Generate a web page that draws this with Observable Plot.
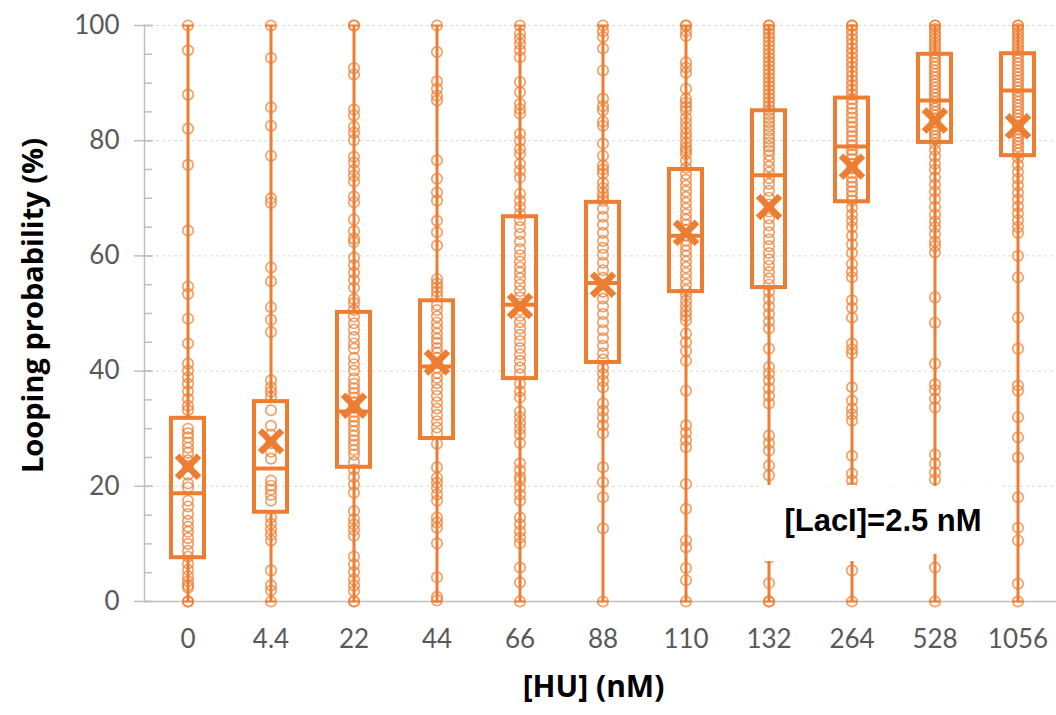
<!DOCTYPE html>
<html>
<head>
<meta charset="utf-8">
<script src="https://cdn.jsdelivr.net/npm/d3@7"></script>
<script src="https://cdn.jsdelivr.net/npm/@observablehq/plot@0.6"></script>
<style>
  html, body { margin: 0; padding: 0; background: #ffffff; }
  #chart { width: 1056px; height: 715px; }
</style>
</head>
<body>
<div id="chart"></div>
<script>
// ---- Data ----
const categories = ["0", "4.4", "22", "44", "66", "88", "110", "132", "264", "528", "1056"];

const q1     = [7.6, 15.5, 23.3, 28.3, 38.7, 41.5, 53.8, 54.5, 69.4, 79.7, 77.4];
const median = [18.8, 23.1, 33.0, 40.8, 51.5, 55.3, 63.5, 74.0, 79.0, 87.0, 88.7];
const q3     = [31.8, 34.7, 50.2, 52.2, 66.8, 69.3, 75.0, 85.2, 87.4, 95.0, 95.1];
const mean   = [23.4, 27.8, 34.0, 41.5, 51.3, 55.0, 64.0, 68.5, 75.5, 83.5, 82.5];
const whiskerLow  = [0, 0, 0, 0, 0, 0, 0, 0, 0, 0, 0];
const whiskerHigh = [100, 100, 100, 100, 100, 100, 100, 100, 100, 100, 100];

const pts0 = [100, 95.7, 88, 82.1, 75.8, 64.4, 54.7, 53.4, 49.1, 44.8, 41.3, 40.1, 38.9, 37.8, 36.5, 35.2, 34, 33.2, 30, 29.2, 28.5, 27.6, 26.7, 25.8, 24.5, 23.5, 22, 20.5, 19.8, 17.5, 16.5, 15.2, 14, 13, 12.1, 11, 10, 8.8, 7.8, 6.6, 5.5, 4.4, 3.5, 2.8, 2.4, 0, 0];
const pts4_4 = [100, 94.4, 85.8, 82.6, 77.4, 70, 69.2, 58, 55.6, 51.1, 48.9, 46.8, 38.4, 37.2, 36.4, 35.5, 33.2, 30.5, 29, 27.5, 26, 24.8, 21, 20.1, 19.4, 18.5, 17.5, 14.6, 13.5, 12.5, 11.6, 10.6, 5.4, 2.8, 1.9, 0];
const pts22 = [100, 100, 92.6, 91.5, 85.4, 84.4, 82.4, 81.4, 80.1, 77.2, 76.2, 74.9, 73.9, 72.9, 70.3, 69.3, 66.3, 64.3, 63, 62.4, 59.7, 58.4, 57.1, 55.8, 54.5, 52.5, 51.8, 50.6, 49.5, 48.3, 47.2, 45.9, 44.8, 43.9, 42.3, 41.2, 40.1, 38.7, 37.8, 37, 36.2, 35.4, 34.6, 33.8, 32.9, 32.1, 31.3, 30.5, 29.6, 28.8, 28, 27.2, 26.3, 25.5, 24.2, 22.9, 21.6, 20.3, 18.9, 15.7, 14.3, 13.4, 12.4, 11.4, 7.8, 6.4, 5.1, 3.8, 2.8, 1.8, 0, 0];
const pts44 = [100, 95.4, 90.3, 89, 87.8, 87, 76.6, 73.4, 71, 69.6, 66.1, 64.1, 61.8, 56, 55.2, 54.5, 53.8, 53, 51.5, 50.6, 49.5, 48.4, 47.5, 46.5, 45.6, 44.9, 44, 43.2, 42.3, 41.5, 40.6, 39.7, 38.8, 37.9, 36.8, 35.7, 34.6, 33.5, 32.4, 31.3, 30.2, 29.2, 27.4, 23.3, 21.5, 20.6, 19.7, 18.6, 17.5, 14.6, 13.7, 12.8, 10.1, 4.2, 0.8, 0.2];
const pts66 = [100, 98.6, 97.7, 96.8, 95.7, 94.5, 90.2, 88.4, 86.4, 85.5, 84.7, 81.2, 80, 78.6, 77.7, 76, 74.8, 73.6, 70.8, 69.6, 68.5, 67.3, 66.2, 65, 63.8, 62.5, 61.2, 60.1, 59, 58, 57.1, 56.1, 55, 53.9, 52.8, 51.7, 50.6, 49.6, 48.5, 47.4, 46.3, 45.2, 44, 42.9, 41.8, 40.6, 39.5, 37.8, 36.5, 35.4, 33, 32, 31, 30, 29, 27.5, 24, 22.8, 21.6, 21, 19.8, 18.6, 17.5, 14.6, 13.4, 12.2, 11.1, 10.1, 5.9, 3.3, 0];
const pts88 = [100, 99, 98, 96, 92.2, 87.3, 86, 85.3, 83.3, 82.6, 79.5, 77.4, 75.7, 75, 74.3, 72.7, 71.8, 70.9, 70.2, 69.6, 68.2, 66.8, 65.4, 64, 62.6, 61.4, 60.2, 58.8, 57.5, 56.2, 55, 53.8, 52.6, 51.2, 49.9, 48.5, 47.1, 45.7, 44.4, 43.1, 42, 40.6, 39.5, 38.3, 37.2, 34.4, 33.1, 31.9, 30.6, 29.2, 23.3, 20.7, 18.1, 12.7, 0];
const pts110 = [100, 100, 99, 98.2, 93.6, 92.7, 91.8, 89, 87.3, 86.6, 85.9, 85.2, 84, 83.1, 82.2, 81.3, 80.5, 79.6, 78.8, 78.3, 77.7, 76.5, 75.3, 74.2, 73.2, 72.2, 71.2, 70.2, 69.2, 68.2, 67.2, 66.3, 65.4, 64.5, 63.6, 62.7, 61.8, 60.9, 60, 59, 58, 57, 56, 55, 54, 53.2, 52.2, 51.3, 50.4, 49.6, 48.8, 46.5, 45, 43.5, 41.8, 36.6, 30.6, 29.3, 28, 26.8, 20.4, 16.1, 10.6, 9.4, 5.8, 3.7, 0];
const pts132 = [100, 100, 99.3, 98.6, 97.9, 97.2, 96.5, 95.8, 95.1, 94.4, 93.7, 93, 92.3, 91.6, 90.9, 90.2, 89.5, 88.8, 88.1, 87.4, 86.7, 86, 85.3, 84.6, 83.9, 83.2, 82.5, 81.8, 81.1, 80.4, 79.7, 79, 78.3, 77.5, 76.5, 75.5, 74.5, 73.5, 72.5, 71.3, 70.1, 68.9, 67.7, 66.5, 65.3, 64.1, 62.9, 61.7, 60.5, 59.4, 58.3, 57.2, 56.1, 55, 53.8, 52.5, 51.2, 49.9, 48.6, 47.4, 43.9, 40.7, 39.6, 38.4, 37, 35.7, 34.4, 28.8, 27.5, 26.2, 23.6, 21.9, 7.6, 3.2, 0, 0];
const pts264 = [100, 100, 99.2, 98.4, 97.6, 96.8, 96, 95.2, 94.4, 93.6, 92.8, 92, 91.2, 90.4, 89.6, 88.8, 88, 87.2, 86.4, 85.6, 84.8, 84, 83.2, 82.4, 81.6, 80.8, 80, 79.2, 78.4, 77.6, 76.8, 76, 75.2, 74.4, 73.6, 72.8, 72, 71.2, 70.4, 69.6, 68.4, 67.2, 66.1, 65, 63.5, 62, 60.5, 58.6, 57.3, 56.3, 52.3, 51, 49.3, 44.8, 43.8, 43, 37.2, 34.9, 33.5, 32.5, 31.4, 25.3, 22.2, 21, 19.8, 9.4, 5.4, 0];
const pts528 = [100, 100, 99.4, 98.8, 98.2, 97.6, 97, 96.4, 95.8, 95.2, 94.6, 94, 93.4, 92.8, 92.2, 91.6, 91, 90.4, 89.8, 89.2, 88.6, 88, 87.4, 86.8, 86.2, 85.6, 85, 84.4, 83.8, 83.2, 82.6, 82, 81.4, 80.8, 80.2, 79.5, 78.4, 77.3, 76, 75, 73.6, 72.4, 71.2, 69.9, 68.5, 67.2, 66, 65, 63.8, 62.5, 61.7, 60.6, 52.8, 48.4, 41.3, 37.7, 36.7, 35.2, 33.7, 25.5, 23.9, 22.4, 21.2, 5.9, 0];
const pts1056 = [100, 100, 99.4, 98.8, 98.2, 97.6, 97, 96.4, 95.8, 95.2, 94.6, 94, 93.4, 92.8, 92.2, 91.6, 91, 90.4, 89.8, 89.2, 88.6, 88, 87.4, 86.8, 86.2, 85.6, 85, 84.4, 83.8, 83.2, 82.6, 82, 81.4, 80.8, 80.2, 79.6, 79, 78.4, 77.8, 77, 75.8, 74.6, 73.4, 72.2, 71, 69.8, 68.6, 67.4, 66.2, 65, 64, 60, 56.3, 49.3, 43.9, 37.5, 36.6, 32, 28.5, 25, 18.1, 12.8, 10.6, 3.1, 0];

const pointSets = [pts0, pts4_4, pts22, pts44, pts66, pts88, pts110, pts132, pts264, pts528, pts1056];

const majorTicks = [0, 20, 40, 60, 80, 100];
const minorTicks = [0, 5, 10, 15, 20, 25, 30, 35, 40, 45, 50, 55, 60, 65, 70, 75, 80, 85, 90, 95, 100];

const xTitle = "[HU] (nM)";
const yTitle = "Looping probability (%)";
const note = "[LacI]=2.5 nM";

// ---- Tables built from the arrays ----
const boxes = categories.map((c, i) => ({
  cat: c, q1: q1[i], median: median[i], q3: q3[i], mean: mean[i],
  lo: whiskerLow[i], hi: whiskerHigh[i]
}));
const points = categories.flatMap((c, i) => pointSets[i].map(v => ({cat: c, v})));

const orange = "#ed7d31";
const axisGray = "#bfbfbf";
const labelGray = "#595959";
const titleFont = "'Open Sans', Lato, sans-serif";

const chart = Plot.plot({
  width: 1056,
  height: 715,
  marginLeft: 144,
  marginRight: 0,
  marginTop: 25,
  marginBottom: 114,
  style: {fontFamily: "Lato, 'Open Sans', sans-serif", background: "#ffffff", overflow: "visible"},
  x: {type: "band", domain: categories, range: [143.3, 1061.7], padding: 0},
  y: {domain: [0, 100]},
  marks: [
    Plot.gridY(majorTicks.filter(d => d > 0), {stroke: "#d9d9d9", strokeOpacity: 1, strokeDasharray: "3,3"}),
    Plot.ruleY([0], {stroke: axisGray, strokeWidth: 1.5}),
    Plot.frame({anchor: "left", stroke: axisGray, strokeWidth: 1.5}),
    Plot.axisY({ticks: minorTicks, tickSize: 8, dx: 8, tickFormat: () => "", stroke: axisGray, strokeWidth: 1.5, label: null}),
    Plot.axisY({ticks: majorTicks, tickSize: 19, dx: 9, tickPadding: 15, stroke: axisGray, strokeWidth: 1.5,
      fill: labelGray, fontSize: 26, label: null}),
    Plot.axisX({tickSize: 0, tickPadding: 28, fill: labelGray, fontSize: 26, label: null}),
    // whiskers
    Plot.ruleX(boxes, {x: "cat", y1: "q3", y2: "hi", stroke: orange, strokeWidth: 3}),
    Plot.ruleX(boxes, {x: "cat", y1: "lo", y2: "q1", stroke: orange, strokeWidth: 3}),
    // inner points
    Plot.dot(points, {x: "cat", y: "v", r: 5.2, fill: "none", stroke: orange, strokeOpacity: 0.72, strokeWidth: 1.7}),
    // whisker caps
    Plot.tickY(boxes, {x: "cat", y: "hi", stroke: orange, strokeWidth: 2, insetLeft: 36, insetRight: 36}),
    Plot.tickY(boxes, {x: "cat", y: "lo", stroke: orange, strokeWidth: 2, insetLeft: 36, insetRight: 36}),
    // boxes
    Plot.barY(boxes, {x: "cat", y1: "q1", y2: "q3", fill: "none", stroke: orange, strokeWidth: 4, insetLeft: 25, insetRight: 25}),
    Plot.tickY(boxes, {x: "cat", y: "median", stroke: orange, strokeWidth: 4, insetLeft: 25, insetRight: 25}),
    // means
    Plot.dot(boxes, {x: "cat", y: "mean", symbol: "times", r: 10, stroke: orange, strokeWidth: 6.5}),
    // annotation
    Plot.text([note], {text: d => d, x: () => "264", y: () => 14, dx: 31, fontSize: 31, fontWeight: "bold",
      fontFamily: "'Liberation Sans', Arial, sans-serif", fill: "#000000", stroke: "#ffffff", strokeWidth: 46,
      strokeLinejoin: "miter", lineAnchor: "middle"}),
    // axis titles
    Plot.text([yTitle], {text: d => d, frameAnchor: "left", textAnchor: "middle", rotate: -90, dx: -111, dy: -8,
      fontSize: 29, fontWeight: "bold", fontFamily: titleFont, fill: "#000000"}),
    Plot.text([xTitle], {text: d => d, frameAnchor: "bottom", textAnchor: "middle", dx: -7, dy: 95, fontSize: 30,
      fontWeight: "bold", fontFamily: titleFont, fill: "#000000"})
  ]
});

document.getElementById("chart").appendChild(chart);
</script>
</body>
</html>
